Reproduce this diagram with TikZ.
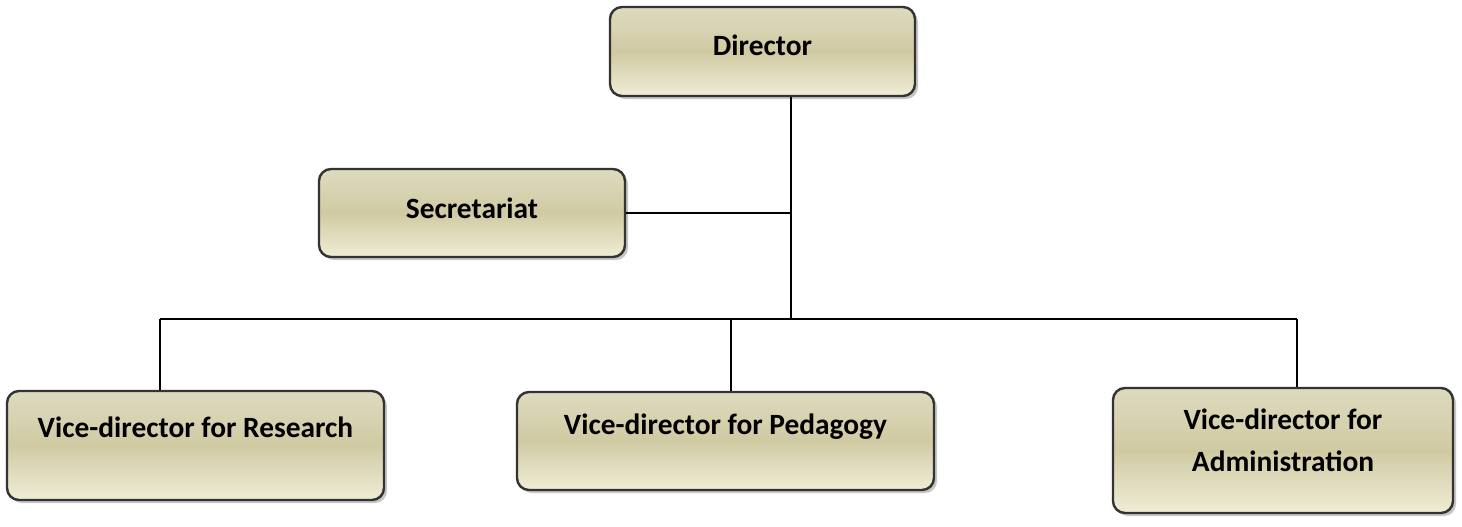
\documentclass[tikz,border=0pt]{standalone}
\usepackage{fontspec}
\setmainfont{Carlito}
\usepackage{xcolor}
\usepackage{tikz}
\usetikzlibrary{positioning,shadows,calc}

\definecolor{tanhi}{RGB}{222,218,190}
\definecolor{tanmid}{RGB}{208,202,163}
\definecolor{tanlo}{RGB}{240,237,214}

\begin{document}
\begin{tikzpicture}[
  x=0.5pt, y=-0.5pt,
  box/.style={rectangle, draw=gray!40!black, line width=1.2pt, rounded corners=6pt,
              top color=tanhi, bottom color=tanlo, middle color=tanmid,
              drop shadow={shadow xshift=1.5pt, shadow yshift=-1.5pt, opacity=.45},
              align=center, font=\bfseries\fontsize{14.7}{21}\selectfont},
  lift/.style={text height=9.4pt, text depth=#1},
  link/.style={draw=black, line width=1pt}
]
\useasboundingbox (0,0) rectangle (1462,526);

\node[box, lift=5.5pt, minimum width=152.5pt, minimum height=44.5pt] (dir) at (762.5,51.5) {Director};
\node[box, lift=4pt, minimum width=153pt, minimum height=44pt] (sec) at (472,213) {Secretariat};
\node[box, lift=17.5pt, minimum width=188.5pt, minimum height=54.5pt] (res) at (195.5,445.5) {Vice-director for Research};
\node[box, lift=16pt, minimum width=208.5pt, minimum height=49pt] (ped) at (725.5,441) {Vice-director for Pedagogy};
\node[box, lift=9.4pt, text height=30.4pt, minimum width=170pt, minimum height=62.5pt] (adm) at (1283,450.5) {Vice-director for\\Administration};

% trunk and bus
\coordinate (trunk) at (791,319);
\coordinate (busL) at (160,319);
\coordinate (busM) at (731,319);
\coordinate (busR) at (1297,319);

\draw[link] (dir.south -| trunk) -- (trunk);
\draw[link] (sec.east) -- (sec.east -| trunk);
\draw[link] (busL) -- (busR);
\draw[link] (busL) -- (busL |- res.north);
\draw[link] (busM) -- (busM |- ped.north);
\draw[link] (busR) -- (busR |- adm.north);
\end{tikzpicture}
\end{document}
